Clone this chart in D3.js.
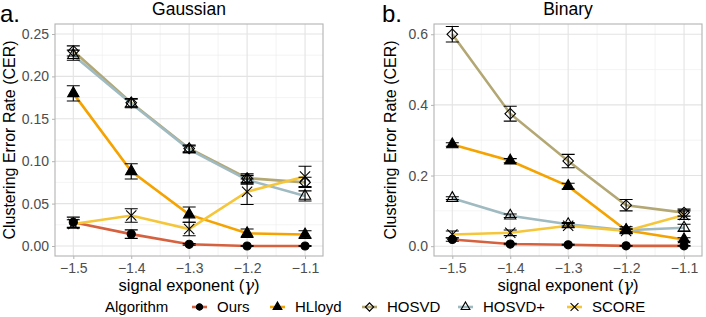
<!DOCTYPE html>
<html>
<head>
<meta charset="utf-8">
<script src="https://cdn.jsdelivr.net/npm/d3@7"></script>
<style>
  body { margin: 0; background: #fff; }
  svg { font-family: "Liberation Sans", Arial, sans-serif; }
</style>
</head>
<body>
<svg></svg>
<script>
let width = 706
let height = 317

// x values (signal exponent)
let exponents = [-1.5, -1.4, -1.3, -1.2, -1.1]
let algorithms = ['Ours', 'HLloyd', 'HOSVD', 'HOSVD+', 'SCORE']
let colors = ['#d6613f', '#f4a300', '#b3a774', '#9fbac0', '#f5c63a']

// Gaussian panel, mean CER and half width of error bar
let gaussOurs = [0.028, 0.014, 0.002, 0.000, 0.000]
let gaussOursErr = [0.006, 0.005, 0.001, 0.0005, 0.0005]
let gaussHLloyd = [0.180, 0.088, 0.037, 0.015, 0.0135]
let gaussHLloydErr = [0.009, 0.009, 0.009, 0.005, 0.0045]
let gaussHOSVD = [0.230, 0.169, 0.115, 0.080, 0.075]
let gaussHOSVDErr = [0.006, 0.005, 0.004, 0.005, 0.006]
let gaussHOSVDp = [0.225, 0.168, 0.114, 0.078, 0.059]
let gaussHOSVDpErr = [0.006, 0.005, 0.004, 0.005, 0.006]
let gaussSCORE = [0.026, 0.036, 0.020, 0.064, 0.082]
let gaussSCOREErr = [0.005, 0.008, 0.008, 0.015, 0.012]

// Binary panel
let binOurs = [0.019, 0.006, 0.004, 0.001, 0.001]
let binOursErr = [0.005, 0.002, 0.001, 0.001, 0.001]
let binHLloyd = [0.288, 0.242, 0.170, 0.045, 0.019]
let binHLloydErr = [0.005, 0.006, 0.008, 0.010, 0.005]
let binHOSVD = [0.600, 0.375, 0.241, 0.116, 0.095]
let binHOSVDErr = [0.022, 0.021, 0.019, 0.016, 0.010]
let binHOSVDp = [0.136, 0.086, 0.062, 0.045, 0.052]
let binHOSVDpErr = [0.004, 0.005, 0.005, 0.004, 0.010]
let binSCORE = [0.033, 0.038, 0.058, 0.043, 0.088]
let binSCOREErr = [0.010, 0.008, 0.006, 0.005, 0.012]

let gaussTicks = [0, 0.05, 0.10, 0.15, 0.20, 0.25]
let binTicks = [0, 0.2, 0.4, 0.6]

let panels = [
    { letter: 'a.', title: 'Gaussian', left: 55, ylab: 15, ydomain: [-0.0118, 0.2618], ticks: gaussTicks, fmt: d3.format('.2f'),
      series: [[gaussOurs, gaussOursErr], [gaussHLloyd, gaussHLloydErr], [gaussHOSVD, gaussHOSVDErr], [gaussHOSVDp, gaussHOSVDpErr], [gaussSCORE, gaussSCOREErr]] },
    { letter: 'b.', title: 'Binary', left: 434, ylab: 396, ydomain: [-0.0278, 0.629], ticks: binTicks, fmt: d3.format('.1f'),
      series: [[binOurs, binOursErr], [binHLloyd, binHLloydErr], [binHOSVD, binHOSVDErr], [binHOSVDp, binHOSVDpErr], [binSCORE, binSCOREErr]] }
]

let pw = 268
let plotTop = 24
let plotBottom = 256

let svg = d3.select('svg').attr('width', width).attr('height', height)

let markerSizes = [52, 55, 56, 55, 70]

let drawMarker = (g, i, x, y, k) => {
    let types = [d3.symbolCircle, d3.symbolTriangle, d3.symbolSquare, d3.symbolTriangle, d3.symbolX]
    let p = g.append('path')
        .attr('d', d3.symbol(types[i], markerSizes[i] * k)())
        .attr('transform', 'translate(' + x + ',' + y + ')' + (i == 2 ? ' rotate(45)' : ''))
        .attr('stroke', '#000')
        .attr('stroke-width', 1.1)
    if (i == 0 || i == 1) p.attr('fill', '#000')
    else p.attr('fill', 'none')
}

panels.forEach((pan) => {
    let xscale = d3.scaleLinear().domain([-1.5316, -1.069]).range([pan.left, pan.left + pw])
    let yscale = d3.scaleLinear().domain(pan.ydomain).range([plotBottom, plotTop])
    let g = svg.append('g')

    // grid
    let minorX = d3.range(-1.55, -1.0, 0.1).map((v) => +v.toFixed(2)).filter((v) => v > -1.5316 && v < -1.069)
    let step = pan.ticks[1] - pan.ticks[0]
    let minorY = pan.ticks.map((v) => v + step / 2).concat([pan.ticks[0] - step / 2])
        .filter((v) => v > pan.ydomain[0] && v < pan.ydomain[1])
    g.selectAll('.minx').data(minorX).enter().append('line')
        .attr('x1', (d) => xscale(d)).attr('x2', (d) => xscale(d))
        .attr('y1', plotTop).attr('y2', plotBottom)
        .attr('stroke', '#ececec').attr('stroke-width', 0.6)
    g.selectAll('.miny').data(minorY).enter().append('line')
        .attr('y1', (d) => yscale(d)).attr('y2', (d) => yscale(d))
        .attr('x1', pan.left).attr('x2', pan.left + pw)
        .attr('stroke', '#ececec').attr('stroke-width', 0.6)
    g.selectAll('.majx').data(exponents).enter().append('line')
        .attr('x1', (d) => xscale(d)).attr('x2', (d) => xscale(d))
        .attr('y1', plotTop).attr('y2', plotBottom)
        .attr('stroke', '#e3e3e3').attr('stroke-width', 1.1)
    g.selectAll('.majy').data(pan.ticks).enter().append('line')
        .attr('y1', (d) => yscale(d)).attr('y2', (d) => yscale(d))
        .attr('x1', pan.left).attr('x2', pan.left + pw)
        .attr('stroke', '#e3e3e3').attr('stroke-width', 1.1)

    // axes
    let xAxis = d3.axisBottom(xscale).tickValues(exponents).tickSize(3).tickPadding(4)
        .tickFormat((d) => '\u2212' + Math.abs(d).toFixed(1))
    let yAxis = d3.axisLeft(yscale).tickValues(pan.ticks).tickSize(3).tickPadding(3).tickFormat(pan.fmt)
    let gx = g.append('g').attr('transform', 'translate(0,' + plotBottom + ')').call(xAxis)
    let gy = g.append('g').attr('transform', 'translate(' + pan.left + ',0)').call(yAxis)
    ;[gx, gy].forEach((a) => {
        a.select('.domain').remove()
        a.selectAll('line').attr('stroke', '#b3b3b3')
        a.selectAll('text').attr('fill', '#4d4d4d').style('font-size', '14px')
    })

    // lines
    pan.series.forEach((s, i) => {
        let line = d3.line().x((d, k) => xscale(exponents[k])).y((d) => yscale(d))
        g.append('path').datum(s[0])
            .attr('d', line)
            .attr('fill', 'none')
            .attr('stroke', colors[i])
            .attr('stroke-width', 2.6)
    })
    // points
    pan.series.forEach((s, i) => {
        s[0].forEach((v, k) => drawMarker(g, i, xscale(exponents[k]), yscale(v), 1))
    })
    // error bars
    pan.series.forEach((s, i) => {
        s[0].forEach((v, k) => {
            let x = xscale(exponents[k])
            let y1 = yscale(v + s[1][k])
            let y0 = yscale(v - s[1][k])
            g.append('path')
                .attr('d', 'M' + (x - 6.5) + ',' + y1 + 'H' + (x + 6.5) + 'M' + x + ',' + y1 + 'V' + y0 + 'M' + (x - 6.5) + ',' + y0 + 'H' + (x + 6.5))
                .attr('fill', 'none')
                .attr('stroke', '#000')
                .attr('stroke-width', 1.1)
        })
    })

    // panel border
    g.append('rect')
        .attr('x', pan.left).attr('y', plotTop).attr('width', pw).attr('height', plotBottom - plotTop)
        .attr('fill', 'none').attr('stroke', '#b3b3b3').attr('stroke-width', 1.1)

    // texts
    g.append('text').attr('x', pan.left + pw / 2).attr('y', 15).attr('text-anchor', 'middle')
        .style('font-size', '17.5px').text(pan.title)
    g.append('text').attr('x', pan.left - 55 + (pan.left > 100 ? 3 : 0)).attr('y', 22)
        .style('font-size', '24px').text(pan.letter)
    g.append('text')
        .attr('transform', 'translate(' + pan.ylab + ',' + ((plotTop + plotBottom) / 2) + ') rotate(-90)')
        .attr('text-anchor', 'middle').style('font-size', '16px')
        .text('Clustering Error Rate (CER)')
    let xl = g.append('text').attr('x', pan.left + pw / 2).attr('y', 290.5).attr('text-anchor', 'middle')
        .style('font-size', '16.5px')
    xl.append('tspan').text('signal exponent (')
    xl.append('tspan').style('font-family', '"DejaVu Serif", serif').style('font-style', 'italic').text('\u03b3')
    xl.append('tspan').text(')')
})

// legend
let legendX = [192, 270, 362, 458, 567]
let lg = svg.append('g')
lg.append('text').attr('x', 105).attr('y', 312).style('font-size', '15px').text('Algorithm')
algorithms.forEach((a, i) => {
    let x = legendX[i]
    lg.append('line').attr('x1', x).attr('x2', x + 15).attr('y1', 307).attr('y2', 307)
        .attr('stroke', colors[i]).attr('stroke-width', 2.6)
    drawMarker(lg, i, x + 7.5, 307, 0.6)
    lg.append('text').attr('x', x + 25).attr('y', 312).style('font-size', '15px').text(a)
})
</script>
</body>
</html>
